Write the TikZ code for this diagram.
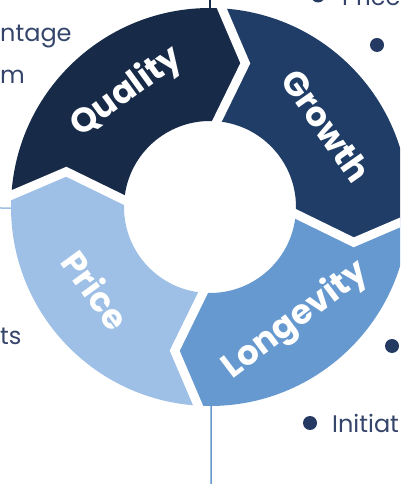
\documentclass[tikz,border=0pt]{standalone}
\usepackage{fontspec}
\setmainfont{Poppins}
\usetikzlibrary{calc,positioning}

\definecolor{qualitynavy}{HTML}{172A48}
\definecolor{growthblue}{HTML}{1F3D66}
\definecolor{longevityblue}{HTML}{6699D0}
\definecolor{pricesky}{HTML}{9EC0E6}
\definecolor{listtext}{HTML}{34446A}
\definecolor{dotnavy}{HTML}{243A63}

\newcommand{\ringout}{199}
\newcommand{\ringin}{86}
\newcommand{\ringmid}{148}
\newcommand{\tipshift}{11.5}

\tikzset{
	seglabel/.style={text=white, font=\fontsize{34}{34}\selectfont\bfseries, inner sep=0pt},
	listitem/.style={text=listtext, font=\fontsize{24}{24}\selectfont, inner sep=0pt, anchor=base west},
	bullet/.style={circle, fill=dotnavy, minimum size=14pt, inner sep=0pt, node contents={}},
	gap/.style={white, line width=9pt, line join=miter},
	link/.style={line width=1.5pt}
}

% one quarter of the ring: #1 = counter-clockwise edge, #2 = colour
\newcommand{\ringpart}[2]{%
	\fill[#2] ({#1}:\ringout) arc[start angle={#1}, end angle={#1-90}, radius=\ringout]
		-- ({#1-90-\tipshift}:\ringmid) -- ({#1-90}:\ringin)
		arc[start angle={#1-90}, end angle={#1}, radius=\ringin]
		-- ({#1-\tipshift}:\ringmid) -- cycle;}

\begin{document}
\begin{tikzpicture}[x=1pt, y=1pt]
	\useasboundingbox (0,0) rectangle (400,484);
	\clip (0,0) rectangle (400,484);

	\begin{scope}[shift={(210,277)}]
		\ringpart{177.7}{qualitynavy}
		\ringpart{87.7}{growthblue}
		\ringpart{-2.3}{longevityblue}
		\ringpart{-92.3}{pricesky}
		\foreach \b in {87.7,-2.3,-92.3,177.7}
			\draw[gap] ({\b}:{\ringout+8}) -- ({\b-\tipshift}:\ringmid) -- ({\b}:{\ringin-8});

		\node[seglabel, rotate=36] (quality) at (126:142) {Quality};
		\node[seglabel, rotate=-55] (growth) at (35:142) {Growth};
		\node[seglabel, rotate=37] (longevity) at (-53:142) {Longevity};
		\node[seglabel, rotate=-54] (price) at (-144:141) {Price};

		\coordinate (qualitytop) at (90:\ringout);
		\coordinate (pricemark) at (180.3:\ringout);
		\coordinate (longevitybottom) at (-89.7:\ringout);
	\end{scope}

	% links out to the side boxes
	\coordinate (qualitybox) at (210,484);
	\coordinate (pricebox) at (0,276);
	\coordinate (longevitybox) at (211,0);
	\draw[link, qualitynavy] (qualitybox) -- (qualitytop);
	\draw[link, pricesky] (pricebox) -- (pricemark);
	\draw[link, longevityblue] (longevitybox) -- (longevitybottom);

	% list items
	\node[listitem] (advantage) at (0,442) {ntage};
	\node[listitem] (premium) at (0,400) {m};
	\node[listitem] (costs) at (0,139) {ts};
	\node[listitem] (pricing) at (342,478) {Price};
	\node[listitem] (initiatives) at (332,51) {Initiat};
	\node (dotA) at (318,488.5) [bullet];
	\node (dotB) at (377,439) [bullet];
	\node (dotC) at (392,138) [bullet];
	\node (dotD) at (310,61) [bullet];
\end{tikzpicture}
\end{document}
